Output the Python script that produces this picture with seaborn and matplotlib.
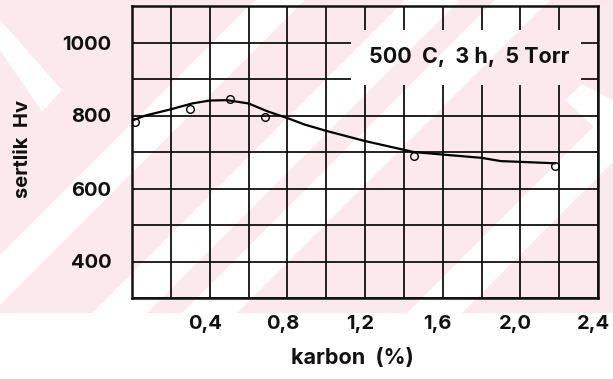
import matplotlib
matplotlib.use("Agg")
import matplotlib.pyplot as plt
from matplotlib.patches import Polygon, Rectangle
from matplotlib.ticker import MultipleLocator, FixedLocator, FixedFormatter
from matplotlib.transforms import ScaledTranslation
import seaborn as sns

# Measured hardness values (Vickers) against carbon content
carbon_pct = [0.015, 0.30, 0.505, 0.685, 1.45, 2.18]
hardness_hv = [783, 817, 845, 797, 689, 662]

# Hand-drawn trend curve through the measurements
curve_carbon = [0.0, 0.07, 0.20, 0.31, 0.40, 0.49, 0.60, 0.70, 0.80, 0.89,
                1.00, 1.20, 1.40, 1.45, 1.60, 1.80, 1.90, 2.00, 2.18]
curve_hardness = [786, 800, 817, 833, 841, 842, 833, 811, 793, 775,
                  758, 730, 706, 700, 693, 684, 675, 673, 669]

x_ticks = [0.4, 0.8, 1.2, 1.6, 2.0, 2.4]
x_tick_labels = ["0,4", "0,8", "1,2", "1,6", "2,0", "2,4"]
y_ticks = [400, 600, 800, 1000]
y_tick_labels = ["400", "600", "800", "1000"]
condition_label = "500  C,  3 h,  5 Torr"

sns.set_theme(style="white")
plt.rcParams["font.family"] = ["Inter", "Liberation Sans", "DejaVu Sans"]

W, H = 613, 379
PINK = "#fce9ed"
fig = plt.figure(figsize=(W / 100, H / 100), dpi=100)


def to_fig(points):
    return [(x / W, 1 - y / H) for x, y in points]


# Background print pattern: pink field with diagonal white bands
base_pts = [(0, 0), (W, 0), (W, 313), (0, 313)]
band_pts = [[(0, 20), (62, 90), (42, 112), (0, 50)],
            [(W, 100), (W, 145), (565, 100), (582, 84)]]
for lo, hi in [(255, 305), (405, 460), (495, 550), (720, 775)]:
    band_pts.append([(lo, 0), (hi, 0), (hi - 313, 313), (lo - 313, 313)])

fig.patches.append(Polygon(to_fig(base_pts), closed=True, transform=fig.transFigure,
                           facecolor=PINK, edgecolor="none", zorder=-10))
for pts in band_pts:
    fig.patches.append(Polygon(to_fig(pts), closed=True, transform=fig.transFigure,
                               facecolor="white", edgecolor="none", zorder=-9))

ax = fig.add_axes([132 / W, 1 - 298 / H, 466 / W, 292 / H])
ax.set_facecolor("none")

# Trend curve and measurement markers
sns.lineplot(x=curve_carbon, y=curve_hardness, ax=ax, color="black",
             linewidth=1.6, sort=False, estimator=None, zorder=3)
sns.lineplot(x=carbon_pct, y=hardness_hv, ax=ax, linestyle="", marker="o",
             markersize=5.5, markerfacecolor="none", markeredgecolor="black",
             markeredgewidth=1.0, estimator=None, zorder=4)

ax.set_xlim(0, 2.4)
ax.set_ylim(300, 1100)
ax.xaxis.set_major_locator(FixedLocator(x_ticks))
ax.xaxis.set_major_formatter(FixedFormatter(x_tick_labels))
ax.yaxis.set_major_locator(FixedLocator(y_ticks))
ax.yaxis.set_major_formatter(FixedFormatter(y_tick_labels))
ax.xaxis.set_minor_locator(MultipleLocator(0.2))
ax.yaxis.set_minor_locator(MultipleLocator(100))
ax.grid(True, which="both", color="#111111", linewidth=1.3)
ax.set_axisbelow(True)
ax.tick_params(which="both", length=0)
ax.tick_params(axis="x", pad=12)
ax.tick_params(axis="y", pad=15)
shift_left = ScaledTranslation(-5 / 100, 0, fig.dpi_scale_trans)
for lab in ax.get_xticklabels():
    lab.set_transform(lab.get_transform() + shift_left)
for lab in ax.get_xticklabels() + ax.get_yticklabels():
    lab.set_fontsize(14.5)
    lab.set_fontweight("bold")
    lab.set_color("#111111")

for sp in ax.spines.values():
    sp.set_visible(True)
    sp.set_color("#111111")
    sp.set_linewidth(1.8)

# Label box: grid interrupted, background pattern kept
box = Rectangle((1.128, 884), 1.184, 150, facecolor=PINK, edgecolor="none", zorder=2.5)
ax.add_patch(box)
for pts in band_pts:
    p = Polygon(to_fig(pts), closed=True, transform=fig.transFigure,
                facecolor="white", edgecolor="none", zorder=2.6)
    ax.add_patch(p)
    p.set_clip_path(box)
ax.text(1.735, 960, condition_label, ha="center", va="center", fontsize=15.5,
        fontweight="bold", color="#111111", zorder=3)

ax.set_xlabel("karbon  (%)", fontsize=15.5, fontweight="bold", color="#111111")
ax.set_ylabel("sertlik  Hv", fontsize=14.5, fontweight="bold", color="#111111")
ax.xaxis.set_label_coords(0.472, -0.171)
ax.yaxis.set_label_coords(-0.2146, 0.51)

fig.savefig("out.png", dpi=100)
